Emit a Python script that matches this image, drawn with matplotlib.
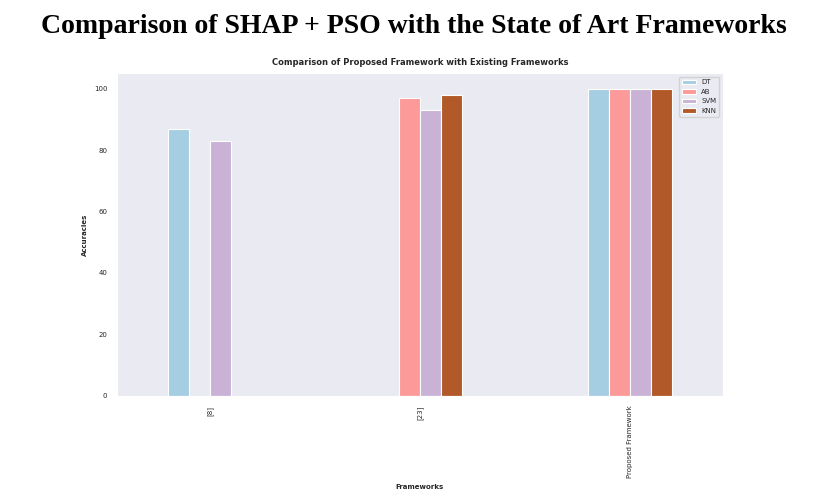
import numpy as np
import matplotlib.pyplot as plt
import seaborn as sns

sns.set_style('dark')

frameworks = ['[8]', '[23]', 'Proposed Framework']
models = ['DT', 'AB', 'SVM', 'KNN']
acc = {
    'DT': [87, np.nan, 100],
    'AB': [np.nan, 97, 100],
    'SVM': [83, 93, 100],
    'KNN': [np.nan, 98, 100],
}
colors = ['#a6cee3', '#fb9a99', '#cab2d6', '#b15928']

fig = plt.figure(figsize=(8.27, 4.98), dpi=100)
fig.text(0.5, 0.947, 'Comparison of SHAP + PSO with the State of Art Frameworks',
         ha='center', va='center', fontsize=20, fontweight='bold',
         family='Liberation Serif', color='black')
ax = fig.add_axes([0.1415, 0.205, 0.7325, 0.648])

x = np.arange(len(frameworks))
w = 0.1
for i, m in enumerate(models):
    ax.bar(x + (i - 1.5) * w, acc[m], w, color=colors[i], label=m,
           edgecolor='white', linewidth=0.8)

ax.set_xticks(x)
ax.set_xticklabels(frameworks, rotation=90, fontsize=5)
ax.tick_params(axis='y', labelsize=5)
ax.set_xlim(-0.443, 2.443)
ax.set_ylim(0, 105)
ax.set_xlabel('Frameworks', fontsize=5, fontweight='bold', labelpad=4)
ax.set_ylabel('Accuracies', fontsize=5, fontweight='bold')
ax.set_title('Comparison of Proposed Framework with Existing Frameworks', fontsize=6, fontweight='bold')
ax.legend(fontsize=5, loc='upper right')

fig.savefig('out.png', dpi=100)
